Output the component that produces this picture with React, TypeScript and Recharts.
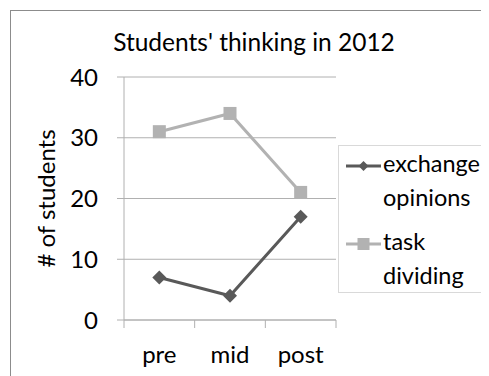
import { LineChart, Line, XAxis, YAxis, CartesianGrid, Legend } from "recharts";

const categories = ["pre", "mid", "post"];
const exchangeOpinions = [7, 4, 17];
const taskDividing = [31, 34, 21];
const yTicks = [0, 10, 20, 30, 40];

const seriesNames = ["exchange opinions", "task dividing"];
const darkGray = "#595959";
const lightGray = "#b2b2b2";

const data = categories.map((c, i) => ({
  name: c,
  exchange: exchangeOpinions[i],
  task: taskDividing[i],
}));

const W = 481;
const H = 368;
const margin = { top: 69, right: 153, bottom: 16, left: 20 };
const yAxisWidth = 96;
const plotWidth = W - margin.left - margin.right - yAxisWidth;
const band = plotWidth / categories.length;
const font = "Lato, 'Open Sans', sans-serif";

// excel-style category ticks sit between the categories
function XTick(props: any) {
  const { x, y, payload, index } = props;
  const left = x - band / 2;
  return (
    <g>
      <line x1={left} x2={left} y1={y} y2={y + 8} stroke="#b0b0b0" />
      {index === categories.length - 1 && (
        <line x1={x + band / 2} x2={x + band / 2} y1={y} y2={y + 8} stroke="#b0b0b0" />
      )}
      <text x={x} y={y + 43} textAnchor="middle" fontSize={24} fontFamily={font} fill="#000">
        {payload.value}
      </text>
    </g>
  );
}

function Diamond(props: any) {
  const { cx, cy } = props;
  const r = 7;
  return (
    <polygon
      points={`${cx},${cy - r} ${cx + r},${cy} ${cx},${cy + r} ${cx - r},${cy}`}
      fill={darkGray}
    />
  );
}

function Square(props: any) {
  const { cx, cy } = props;
  const s = 13;
  return <rect x={cx - s / 2} y={cy - s / 2} width={s} height={s} fill={lightGray} />;
}

function LegendBox() {
  const items = [
    { label: ["exchange", "opinions"], color: darkGray, marker: "diamond" },
    { label: ["task", "dividing"], color: lightGray, marker: "square" },
  ];
  return (
    <div
      style={{
        border: "1px solid #d9d9d9",
        background: "#fff",
        width: 200,
        padding: "0 0 0 7px",
        boxSizing: "border-box",
        height: 148,
        fontFamily: font,
        fontSize: 23.5,
        lineHeight: "34px",
        color: "#000",
      }}
    >
      {items.map((it, i) => (
        <div key={it.label[0]} style={{ display: "flex", alignItems: "flex-start", marginTop: i === 0 ? 0 : 10 }}>
          <svg width={35} height={34} style={{ flexShrink: 0, marginRight: 2 }}>
            <line x1={0} x2={35} y1={20} y2={20} stroke={it.color} strokeWidth={3} />
            {it.marker === "diamond" ? (
              <polygon points="17.5,15 22.5,20 17.5,25 12.5,20" fill={it.color} />
            ) : (
              <rect x={11.5} y={14} width={12} height={12} fill={it.color} />
            )}
          </svg>
          <div>
            {it.label[0]}
            <br />
            {it.label[1]}
          </div>
        </div>
      ))}
    </div>
  );
}

export default function App() {
  return (
    <div style={{ position: "relative", width: W, height: H, overflow: "hidden", background: "#fff" }}>
      <div
        style={{
          position: "absolute",
          left: 2,
          top: 2,
          width: 600,
          height: 500,
          border: "1.5px solid #8c8c8c",
        }}
      />
      <div
        style={{
          position: "absolute",
          left: 0,
          width: 492,
          top: 19,
          textAlign: "center",
          fontFamily: font,
          fontSize: 24.5,
          lineHeight: 1.2,
          color: "#000",
        }}
      >
        Students' thinking in 2012
      </div>
      <LineChart width={W} height={H} data={data} margin={margin} style={{ position: "absolute", left: 0, top: 0 }}>
        <CartesianGrid vertical={false} stroke="#b0b0b0" />
        <XAxis
          dataKey="name"
          scale="band"
          stroke="#b0b0b0"
          tickLine={false}
          tickSize={0}
          tickMargin={0}
          height={40}
          tick={<XTick />}
          interval={0}
        />
        <YAxis
          domain={[0, 40]}
          ticks={yTicks}
          width={yAxisWidth}
          stroke="#b0b0b0"
          tickSize={7}
          tickMargin={19}
          tick={{ fill: "#000", fontSize: 24, fontFamily: font }}
          label={{
            content: (p: any) => {
              const vb = p.viewBox;
              const cx = vb.x + 17;
              const cy = vb.y + vb.height / 2;
              return (
                <text
                  x={cx}
                  y={cy}
                  transform={`rotate(-90 ${cx} ${cy})`}
                  textAnchor="middle"
                  dominantBaseline="central"
                  fontSize={24}
                  fontFamily={font}
                  fill="#000"
                >
                  # of students
                </text>
              );
            },
          }}
        />
        <Legend
          layout="horizontal"
          verticalAlign="middle"
          align="center"
          content={() => <LegendBox />}
          wrapperStyle={{ left: 330, top: 137, width: 200 }}
        />
        <Line
          dataKey="exchange"
          name={seriesNames[0]}
          stroke={darkGray}
          strokeWidth={3}
          dot={(p: any) => <Diamond key={`d${p.index}`} {...p} />}
          activeDot={false}
          isAnimationActive={false}
        />
        <Line
          dataKey="task"
          name={seriesNames[1]}
          stroke={lightGray}
          strokeWidth={3}
          dot={(p: any) => <Square key={`s${p.index}`} {...p} />}
          activeDot={false}
          isAnimationActive={false}
        />
      </LineChart>
    </div>
  );
}
